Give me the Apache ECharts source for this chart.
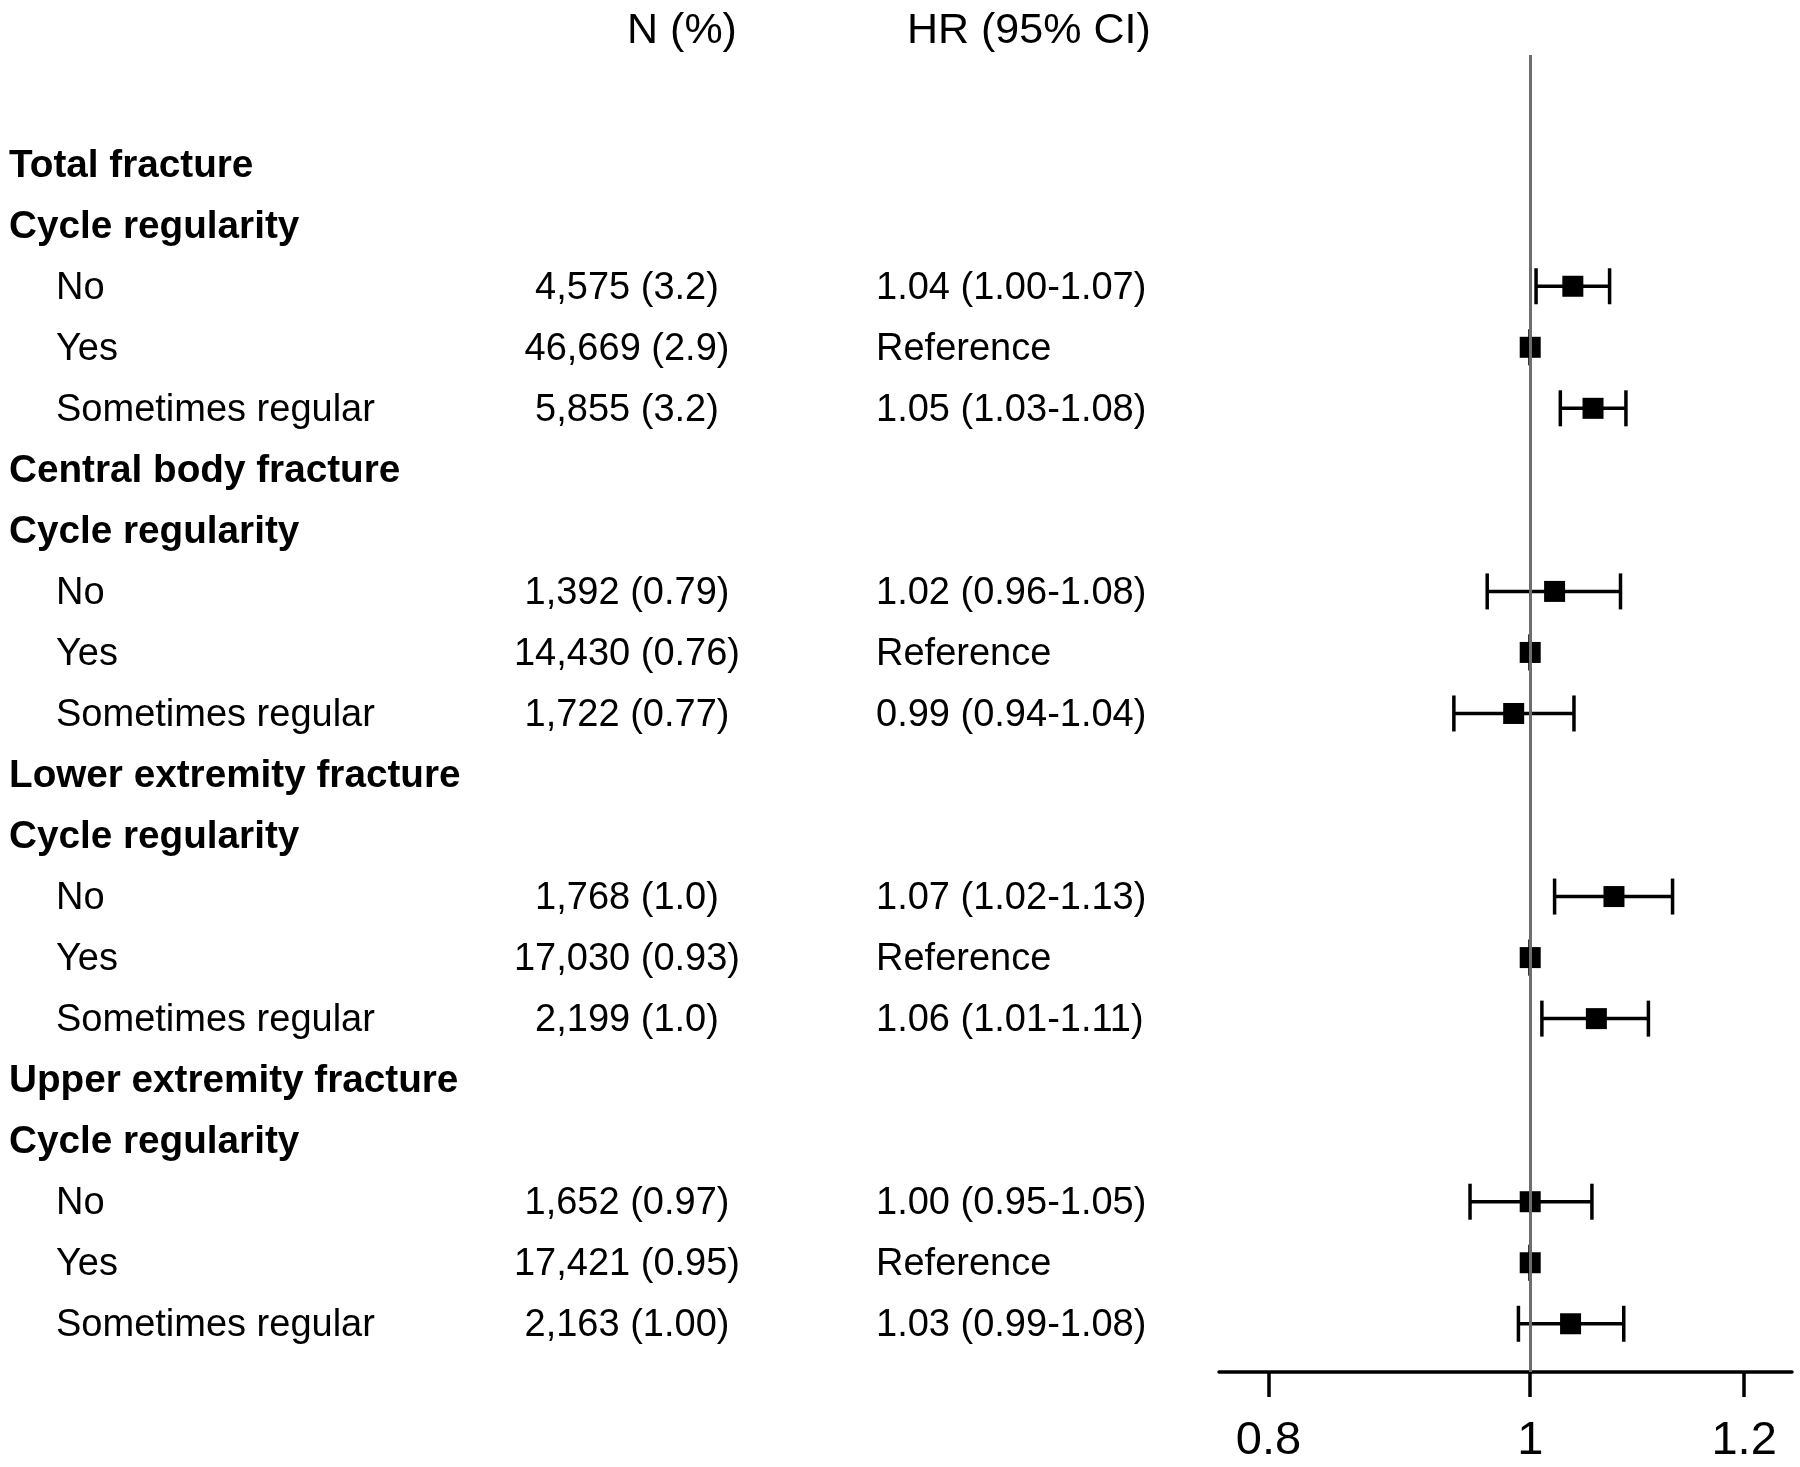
<!DOCTYPE html>
<html>
<head>
<meta charset="utf-8">
<script src="https://cdn.jsdelivr.net/npm/echarts@6/dist/echarts.min.js"></script>
<style>
html,body{margin:0;padding:0;background:#fff;}
#chart{width:1800px;height:1467px;}
</style>
</head>
<body>
<div id="chart"></div>
<script>
// ---------- data ----------
var rowLabels = ['Total fracture','Cycle regularity','No','Yes','Sometimes regular',
  'Central body fracture','Cycle regularity','No','Yes','Sometimes regular',
  'Lower extremity fracture','Cycle regularity','No','Yes','Sometimes regular',
  'Upper extremity fracture','Cycle regularity','No','Yes','Sometimes regular'];
var rowBold = [1,1,0,0,0, 1,1,0,0,0, 1,1,0,0,0, 1,1,0,0,0];
var nText = ['','','4,575 (3.2)','46,669 (2.9)','5,855 (3.2)',
  '','','1,392 (0.79)','14,430 (0.76)','1,722 (0.77)',
  '','','1,768 (1.0)','17,030 (0.93)','2,199 (1.0)',
  '','','1,652 (0.97)','17,421 (0.95)','2,163 (1.00)'];
var hrText = ['','','1.04 (1.00-1.07)','Reference','1.05 (1.03-1.08)',
  '','','1.02 (0.96-1.08)','Reference','0.99 (0.94-1.04)',
  '','','1.07 (1.02-1.13)','Reference','1.06 (1.01-1.11)',
  '','','1.00 (0.95-1.05)','Reference','1.03 (0.99-1.08)'];
var hrEst = [null,null,1.037,1,1.055, null,null,1.021,1,0.986, null,null,1.074,1,1.058, null,null,1.000,1,1.035];
var hrLow = [null,null,1.005,1,1.026, null,null,0.964,1,0.937, null,null,1.021,1,1.010, null,null,0.950,1,0.990];
var hrHigh = [null,null,1.070,1,1.085, null,null,1.080,1,1.038, null,null,1.129,1,1.106, null,null,1.054,1,1.083];
var colHeaders = ['N (%)', 'HR (95% CI)'];
var xTicks = [0.8, 1, 1.2];
var refValue = 1;

// ---------- layout ----------
var FONT = '"Liberation Sans", Arial, Helvetica, sans-serif';
var ROW0 = 164.2, ROWH = 61.03, AXIS_Y = 1372, PLOT_TOP = 55;
var PLOT_LEFT = 1219, PLOT_RIGHT = 1792;
var COL_LABEL_BOLD = 9, COL_LABEL_SUB = 56, COL_N = 627, COL_HR = 876;
var HEAD_N = 682, HEAD_HR = 907, HEAD_Y = 29;
var TEXT_DY = 2;
function yVal(px){ return (px - ROW0) / ROWH; }

var labelData = [], nData = [], hrData = [], estData = [], ciData = [];
rowLabels.forEach(function(t, i){
  labelData.push({value:[rowBold[i] ? COL_LABEL_BOLD : COL_LABEL_SUB, i, t],
    label:{fontWeight: rowBold[i] ? 'bold' : 'normal', fontSize: rowBold[i] ? 38.7 : 38}});
  if (nText[i]) nData.push([COL_N, i, nText[i]]);
  if (hrText[i]) hrData.push([COL_HR, i, hrText[i]]);
  if (hrEst[i] != null) {
    estData.push([hrEst[i], i]);
    ciData.push([hrLow[i], hrHigh[i], i]);
  }
});
var headData = [[HEAD_N, yVal(HEAD_Y), colHeaders[0], 'center'], [HEAD_HR, yVal(HEAD_Y), colHeaders[1], 'left']];

function textSeries(data, align, size){
  return {
    type:'scatter', xAxisIndex:0, yAxisIndex:0, symbolSize:1, silent:true,
    itemStyle:{color:'rgba(0,0,0,0)', opacity:1},
    data:data,
    label:{show:true, position:'inside', align:align, verticalAlign:'middle', opacity:1,
      offset:[0, TEXT_DY],
      color:'#000', fontSize:size, fontFamily:FONT,
      formatter:function(p){ return p.value[2]; }}
  };
}

var chart = echarts.init(document.getElementById('chart'), null, {renderer:'canvas'});
chart.setOption({
  backgroundColor:'#fff',
  animation:false,
  grid:[
    {left:0, top:0, width:PLOT_LEFT, height:AXIS_Y},
    {left:PLOT_LEFT, top:PLOT_TOP, width:PLOT_RIGHT - PLOT_LEFT, height:AXIS_Y - PLOT_TOP}
  ],
  xAxis:[
    {gridIndex:0, type:'value', min:0, max:PLOT_LEFT, show:false},
    {gridIndex:1, type:'log', logBase:10, min:0.767, max:1.25, position:'bottom',
      axisLine:{show:true, onZero:false, lineStyle:{color:'#000', width:3.5}},
      axisTick:{show:true, length:25, lineStyle:{color:'#000', width:3.5}, customValues:xTicks},
      axisLabel:{show:true, customValues:xTicks, color:'#000', fontSize:47, fontFamily:FONT, margin:46,
        formatter:function(v){ return String(+(+v).toFixed(2)); }},
      splitLine:{show:false}, minorTick:{show:false}, minorSplitLine:{show:false}}
  ],
  yAxis:[
    {gridIndex:0, type:'value', inverse:true, min:yVal(0), max:yVal(AXIS_Y), show:false},
    {gridIndex:1, type:'value', inverse:true, min:yVal(PLOT_TOP), max:yVal(AXIS_Y), show:false}
  ],
  series:[
    textSeries(labelData, 'left', 38),
    textSeries(nData, 'center', 38),
    textSeries(hrData, 'left', 38),
    {
      type:'scatter', xAxisIndex:0, yAxisIndex:0, symbolSize:1, silent:true,
      itemStyle:{color:'rgba(0,0,0,0)', opacity:1},
      data:headData.map(function(d){ return {value:[d[0], d[1], d[2]], label:{align:d[3]}}; }),
      label:{show:true, position:'inside', verticalAlign:'middle', color:'#000', fontSize:43, fontFamily:FONT,
        offset:[0, TEXT_DY],
        formatter:function(p){ return p.value[2]; }}
    },
    {
      type:'line', xAxisIndex:1, yAxisIndex:1, data:[], silent:true,
      markLine:{silent:true, symbol:['none','none'], label:{show:false},
        lineStyle:{color:'#6e6e6e', width:3, type:'solid', opacity:1},
        data:[{xAxis:refValue}]}
    },
    {
      type:'custom', xAxisIndex:1, yAxisIndex:1, silent:true,
      data:ciData,
      renderItem:function(params, api){
        var y = api.value(2);
        var a = api.coord([api.value(0), y]);
        var b = api.coord([api.value(1), y]);
        var h = 18;
        var st = {stroke:'#000', lineWidth:3.5};
        return {type:'group', children:[
          {type:'line', shape:{x1:a[0], y1:a[1], x2:b[0], y2:b[1]}, style:st},
          {type:'line', shape:{x1:a[0], y1:a[1]-h, x2:a[0], y2:a[1]+h}, style:st},
          {type:'line', shape:{x1:b[0], y1:b[1]-h, x2:b[0], y2:b[1]+h}, style:st}
        ]};
      },
      z:3
    },
    {
      type:'scatter', xAxisIndex:1, yAxisIndex:1, silent:true,
      symbol:'rect', symbolSize:21, itemStyle:{color:'#000', opacity:1},
      data:estData, z:4
    }
  ]
});
</script>
</body>
</html>
